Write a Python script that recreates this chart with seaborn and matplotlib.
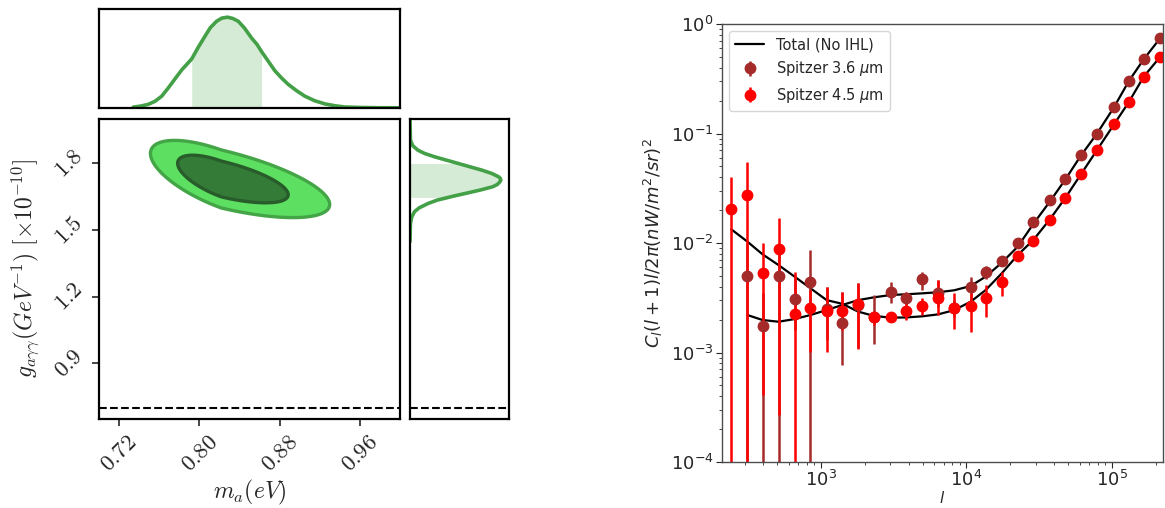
import numpy as np
import matplotlib
matplotlib.use("Agg")
import matplotlib.pyplot as plt
import seaborn as sns

# ---------------- left panel: posterior of axion mass / coupling ----------------
ma_grid = [0.7342, 0.7410, 0.7491, 0.7560, 0.7625, 0.7690, 0.7757, 0.7825, 0.7924,
           0.7990, 0.8056, 0.8110, 0.8172, 0.8225, 0.8282, 0.8335, 0.8388, 0.8450,
           0.8521, 0.8575, 0.8621, 0.8690, 0.8753, 0.8820, 0.8886, 0.8970, 0.9052,
           0.9150, 0.9252, 0.9350, 0.9451, 0.9600, 0.9783, 1.0]
ma_density = [0.01, 0.02, 0.04, 0.075, 0.13, 0.22, 0.32, 0.42, 0.54,
              0.67, 0.79, 0.885, 0.955, 0.99, 1.0, 0.985, 0.955, 0.88,
              0.77, 0.70, 0.62, 0.51, 0.41, 0.33, 0.26, 0.19, 0.13,
              0.08, 0.045, 0.025, 0.011, 0.006, 0.003, 0.002]
ma_interval = (0.7924, 0.8621)

g_grid = [1.9955, 1.905, 1.880, 1.860, 1.845, 1.830, 1.815, 1.80, 1.785, 1.770,
          1.755, 1.740, 1.733, 1.725, 1.715, 1.705, 1.695, 1.680, 1.665, 1.655,
          1.647, 1.635, 1.620, 1.600, 1.583, 1.560, 1.530, 1.448]
g_density = [0.0, 0.005, 0.03, 0.086, 0.16, 0.27, 0.40, 0.53, 0.66, 0.79,
             0.90, 0.975, 0.995, 1.0, 0.985, 0.96, 0.91, 0.77, 0.61, 0.50,
             0.42, 0.30, 0.20, 0.10, 0.05, 0.02, 0.005, 0.0]
g_interval = (1.647, 1.80)

post_center = (0.822, 1.73)
post_sigma_m = (0.0289, 0.0441)   # left / right of the mode
post_sigma_g = 0.071
post_rho = -0.66
cred_levels = [0.95, 0.68]
g_reference = 0.7

ma_ticks = [0.72, 0.80, 0.88, 0.96]
ma_ticklabels = ["$0.72$", "$0.80$", "$0.88$", "$0.96$"]
g_ticks = [0.9, 1.2, 1.5, 1.8]
g_ticklabels = ["$0.9$", "$1.2$", "$1.5$", "$1.8$"]

# ---------------- right panel: Spitzer fluctuation power spectra ----------------
ell = [242, 312, 397, 511, 659, 847, 1094, 1406, 1804, 2312, 3011, 3837, 4966, 6397,
       8240, 10683, 13548, 17457, 22487, 28865, 37480, 47750, 61200, 78500, 102700,
       130300, 165000, 213900]
nan = np.nan
cl_36 = [nan, 0.00503, 0.00176, 0.00503, 0.00306, 0.00438, 0.0025, 0.00187, 0.0027,
         0.0021, 0.00359, 0.00313, 0.00466, 0.00347, 0.00255, 0.00399, 0.0054, 0.0069,
         0.0099, 0.01555, 0.0245, 0.0384, 0.0637, 0.0997, 0.173, 0.300, 0.476, 0.740]
cl_36_hi = [nan, 0.0100, 0.00347, 0.0098, 0.0050, 0.00863, 0.0040, 0.0036, 0.00428,
            0.00335, 0.00442, 0.0036, 0.00547, 0.0046, 0.0030, 0.00493, 0.0062, 0.0073,
            0.0104, 0.0160, 0.0250, 0.039, 0.064, 0.100, 0.174, 0.302, 0.479, 0.745]
cl_36_lo = [nan, 1e-6, 1e-6, 1e-6, 0.0016, 1e-6, 0.0013, 0.00077, 0.0011,
            0.0012, 0.00283, 0.0027, 0.00372, 0.0026, 0.0021, 0.00291, 0.0047, 0.0065,
            0.0094, 0.0151, 0.0240, 0.0378, 0.0630, 0.099, 0.172, 0.298, 0.473, 0.735]

cl_45 = [0.0205, 0.0276, 0.00529, 0.00875, 0.00226, 0.00253, 0.00241, 0.00239, 0.00276,
         0.00209, 0.00209, 0.00241, 0.00264, 0.00312, 0.00253, 0.00267, 0.00312, 0.00442,
         0.00767, 0.0104, 0.0163, 0.0256, 0.0424, 0.0703, 0.121, 0.193, 0.330, 0.503]
cl_45_hi = [0.0403, 0.0546, 0.0101, 0.017, 0.00547, 0.00372, 0.00399, 0.0036, 0.00432,
            0.0024, 0.00235, 0.0029, 0.00312, 0.00459, 0.00346, 0.0035, 0.00415, 0.00547,
            0.0085, 0.0107, 0.0166, 0.026, 0.043, 0.071, 0.122, 0.195, 0.333, 0.507]
cl_45_lo = [1e-6, 1e-6, 0.00041, 0.00027, 1e-6, 0.00102, 0.00102, 0.0016, 0.00107,
            0.0018, 0.0019, 0.0020, 0.00218, 0.00218, 0.00163, 0.00155, 0.00211, 0.00328,
            0.0069, 0.0101, 0.0160, 0.0252, 0.0418, 0.0696, 0.120, 0.191, 0.327, 0.499]

ell_model_36 = [312, 397, 511, 659, 847, 1094, 1406, 1804, 2312, 3011, 3837, 4966, 6397,
                8240, 10683, 13548, 17457, 22487, 28865, 37480, 47750, 61200, 78500,
                102700, 130300, 165000, 213900, 224000]
model_36 = [0.0022, 0.00198, 0.00191, 0.00202, 0.0022, 0.00244, 0.00272, 0.00301, 0.00319,
            0.00335, 0.0034, 0.00347, 0.00355, 0.0037, 0.00405, 0.00493, 0.0066, 0.00925,
            0.0150, 0.0240, 0.0380, 0.0630, 0.099, 0.172, 0.300, 0.476, 0.74, 0.80]
ell_model_45 = [242, 312, 397, 511, 659, 847, 1094, 1406, 1804, 2312, 3011, 3837, 4966,
                6397, 8240, 10683, 13548, 17457, 22487, 28865, 37480, 47750, 61200, 78500,
                102700, 130300, 165000, 213900, 224000]
model_45 = [0.01334, 0.0103, 0.00788, 0.00629, 0.00493, 0.00386, 0.00301, 0.00278, 0.00236,
            0.00216, 0.00208, 0.00209, 0.00214, 0.00223, 0.00244, 0.00291, 0.00372, 0.00528,
            0.00776, 0.0107, 0.0165, 0.0258, 0.0425, 0.070, 0.120, 0.193, 0.33, 0.50, 0.54]

# ---------------- style ----------------
sns.set_style("ticks")
plt.rcParams["font.family"] = ["DejaVu Sans"]
plt.rcParams["mathtext.fontset"] = "dejavusans"

green_line = "#43a047"
green_shade = "#d6ebd6"
outer_fill = "#5ddf62"
outer_edge = "#44a547"
inner_fill = "#357b38"
inner_edge = "#285c2a"

W, H = 1165, 508
fig = plt.figure(figsize=(W / 100, H / 100), dpi=100)
ax_main = fig.add_axes([99 / W, 1 - 419 / H, 301 / W, 300 / H])
ax_top = fig.add_axes([99 / W, 1 - 108 / H, 301 / W, 99 / H])
ax_side = fig.add_axes([410 / W, 1 - 419 / H, 99 / W, 300 / H])
ax_cl = fig.add_axes([722 / W, 1 - 462 / H, 441 / W, 438 / H])

# ---- 2D credible contours ----
mg = np.linspace(0.70, 1.0, 500)
gg = np.linspace(0.65, 2.0, 700)
M, G = np.meshgrid(mg, gg)
sig_m = np.where(M < post_center[0], post_sigma_m[0], post_sigma_m[1])
u = (M - post_center[0]) / sig_m
v = (G - post_center[1]) / post_sigma_g
Q = (u ** 2 - 2 * post_rho * u * v + v ** 2) / (1 - post_rho ** 2)
dens = np.exp(-0.5 * Q)
flat = np.sort(dens.ravel())[::-1]
cum = np.cumsum(flat) / flat.sum()
thr = [flat[np.searchsorted(cum, c)] for c in cred_levels]
ax_main.contourf(M, G, dens, levels=[thr[0], thr[1], dens.max() * 1.01],
                 colors=[outer_fill, inner_fill])
ax_main.contour(M, G, dens, levels=[thr[0]], colors=[outer_edge], linewidths=2.4)
ax_main.contour(M, G, dens, levels=[thr[1]], colors=[inner_edge], linewidths=2.4)
ax_main.axhline(g_reference, color="k", ls="--", lw=1.5)
ax_main.axvline(1.0, color="0.5", ls="--", lw=1.0)
ax_main.set_xlim(0.70, 1.0)
ax_main.set_ylim(0.65, 2.0)
ax_main.set_xticks(ma_ticks, ma_ticklabels, rotation=45, fontsize=16.5,
                   math_fontfamily="cm")
ax_main.set_yticks(g_ticks, g_ticklabels, rotation=45, fontsize=16.5,
                   math_fontfamily="cm", va="center")
ax_main.tick_params(direction="out", length=5, width=1.2, top=False, right=False)
ax_main.set_xlabel(r"$m_a(eV)$", fontsize=17, math_fontfamily="cm", labelpad=1)
ax_main.set_ylabel(r"$g_{a\gamma\gamma}(GeV^{-1})\ [\times 10^{-10}]$", fontsize=17,
                   math_fontfamily="cm", labelpad=6)

# ---- marginal of m_a ----
sns.lineplot(x=ma_grid, y=ma_density, ax=ax_top, color=green_line, lw=2.6,
             estimator=None, sort=False)
x_in = [x for x in ma_grid if ma_interval[0] <= x <= ma_interval[1]]
y_in = [y for x, y in zip(ma_grid, ma_density) if ma_interval[0] <= x <= ma_interval[1]]
ax_top.fill_between(x_in, 0, y_in, color=green_shade, lw=0)
ax_top.axvline(1.0, color="0.5", ls="--", lw=1.0)
ax_top.set_xlim(0.70, 1.0)
ax_top.set_ylim(0, 1.09)
ax_top.set_xticks([])
ax_top.set_yticks([])
ax_top.set_xlabel("")
ax_top.set_ylabel("")

# ---- marginal of g ----
sns.lineplot(x=g_density, y=g_grid, ax=ax_side, color=green_line, lw=2.6,
             estimator=None, sort=False, orient="y")
g_in = [g for g in g_grid if g_interval[0] <= g <= g_interval[1]]
h_in = [h for g, h in zip(g_grid, g_density) if g_interval[0] <= g <= g_interval[1]]
ax_side.fill_betweenx(g_in, 0, h_in, color=green_shade, lw=0)
ax_side.axhline(g_reference, color="k", ls="--", lw=1.5)
ax_side.set_ylim(0.65, 2.0)
ax_side.set_xlim(0, 1.09)
ax_side.set_xticks([])
ax_side.set_yticks([])
ax_side.set_xlabel("")
ax_side.set_ylabel("")

for a in (ax_main, ax_top, ax_side):
    for s in a.spines.values():
        s.set_visible(True)
        s.set_linewidth(1.6)
        s.set_color("k")

# ---------------- right panel ----------------
sns.lineplot(x=ell_model_36, y=model_36, ax=ax_cl, color="k", lw=1.6,
             estimator=None, sort=False, label="Total (No IHL)")
sns.lineplot(x=ell_model_45, y=model_45, ax=ax_cl, color="k", lw=1.6,
             estimator=None, sort=False, label="_nolegend_")

e36 = np.array(cl_36)
err36 = [e36 - np.array(cl_36_lo), np.array(cl_36_hi) - e36]
e45 = np.array(cl_45)
err45 = [e45 - np.array(cl_45_lo), np.array(cl_45_hi) - e45]
ax_cl.errorbar(ell, cl_36, yerr=err36, fmt="o", color="#a52a2a", ms=7.5, elinewidth=1.8,
               label=r"Spitzer 3.6 $\mu$m")
ax_cl.errorbar(ell, cl_45, yerr=err45, fmt="o", color="red", ms=7.5, elinewidth=1.8,
               label=r"Spitzer 4.5 $\mu$m")
ax_cl.set_xscale("log")
ax_cl.set_yscale("log")
ax_cl.set_xlim(209, 2.24e5)
ax_cl.set_ylim(1e-4, 1e0)
ax_cl.set_xlabel(r"$l$", fontsize=11, labelpad=0)
ax_cl.set_ylabel(r"$C_l(l+1)l/2\pi(nW/m^2/sr)^2$", fontsize=13)
ax_cl.tick_params(axis="both", which="major", labelsize=13, direction="out", length=4,
                  pad=2)
ax_cl.tick_params(axis="both", which="minor", direction="out", length=2)
for s in ax_cl.spines.values():
    s.set_visible(True)
    s.set_color("0.3")
    s.set_linewidth(1.0)
ax_cl.legend(loc="upper left", fontsize=10.5, frameon=True, framealpha=0.8,
             edgecolor="0.8", borderaxespad=0.5)

fig.savefig("out.png", dpi=100)
